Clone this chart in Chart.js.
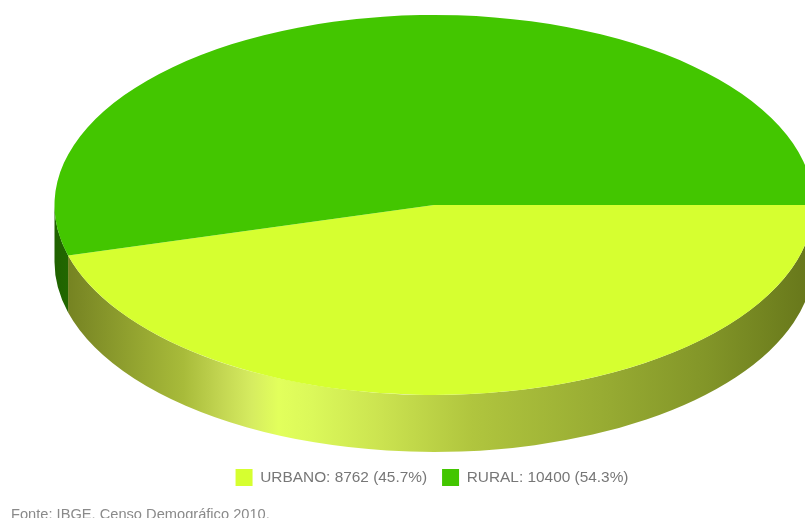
<!DOCTYPE html>
<html lang="pt">
<head>
<meta charset="utf-8">
<title>População urbana e rural</title>
<script src="https://cdn.jsdelivr.net/npm/chart.js@4"></script>
<style>
  html, body { margin: 0; padding: 0; background: #fff; overflow: hidden; }
  canvas { display: block; }
</style>
</head>
<body>
<canvas id="pie" width="805" height="518"></canvas>
<script>
// Population by household situation
const categories = ['URBANO', 'RURAL'];
const populacao = [8762, 10400];
const percentuais = ['45.7%', '54.3%'];
const coresFatia = ['#d6ff30', '#43c600'];
const fonteTexto = 'Fonte: IBGE, Censo Demográfico 2010.';

// Tilted disc geometry, in canvas pixels
const discCenterX = 434;
const discCenterY = 205;
const discRadiusX = 379.5;
const discRadiusY = 190;
const discDepth = 57;

// Side-wall shading: [position across the disc width, colour]
const paredeUrbana = [
  [0.00, '#6f7d1e'], [0.04, '#7d8b26'], [0.12, '#98a932'], [0.17, '#a8bb3a'],
  [0.22, '#c3d652'], [0.26, '#d6ec60'], [0.295, '#e2ff5c'], [0.34, '#dbf85a'],
  [0.43, '#cbe350'], [0.55, '#b0c53e'], [0.72, '#98ac33'], [0.86, '#829528'],
  [1.00, '#66761a']
];
const paredeRural = [
  [0.00, '#1f6200'], [0.04, '#266e00'], [1.00, '#266e00']
];

function paredeGradiente(ctx, stops) {
  const g = ctx.createLinearGradient(discCenterX - discRadiusX, 0, discCenterX + discRadiusX, 0);
  stops.forEach(([pos, cor]) => g.addColorStop(pos, cor));
  return g;
}

// Draws the disc's visible rim under each slice, then flattens the slices into an ellipse
const discoInclinado = {
  id: 'discoInclinado',
  afterLayout(chart) {
    // Legend row and source note sit at fixed spots under the disc
    chart.legend.left += 24;
    chart.legend.right += 24;
    chart.legend.top = 454;
    chart.titleBlock.top = 506;
  },
  beforeDatasetsDraw(chart) {
    const ctx = chart.ctx;
    const arcs = chart.getDatasetMeta(0).data;
    const paredes = [paredeUrbana, paredeRural];
    arcs.forEach((arc, i) => {
      const a0 = Math.max(arc.startAngle, 0);
      const a1 = Math.min(arc.endAngle, Math.PI);
      if (a1 <= a0) return;
      ctx.save();
      ctx.beginPath();
      ctx.ellipse(discCenterX, discCenterY, discRadiusX, discRadiusY, 0, a0, a1);
      ctx.ellipse(discCenterX, discCenterY + discDepth, discRadiusX, discRadiusY, 0, a1, a0, true);
      ctx.closePath();
      ctx.fillStyle = paredeGradiente(ctx, paredes[i]);
      ctx.fill();
      ctx.restore();
    });
    const first = arcs[0];
    ctx.save();
    ctx.translate(discCenterX, discCenterY);
    ctx.scale(1, discRadiusY / discRadiusX);
    ctx.translate(-first.x, -first.y);
  },
  afterDatasetsDraw(chart) {
    chart.ctx.restore();
  }
};

new Chart(document.getElementById('pie'), {
  type: 'pie',
  data: {
    labels: categories,
    datasets: [{
      data: populacao,
      backgroundColor: coresFatia,
      borderWidth: 0,
      clip: false
    }]
  },
  options: {
    responsive: false,
    animation: false,
    events: [],
    rotation: 90,
    radius: discRadiusX,
    layout: { padding: { left: 11 } },
    plugins: {
      tooltip: { enabled: false },
      title: {
        display: true,
        text: fonteTexto,
        position: 'bottom',
        align: 'start',
        color: '#8a8a8a',
        font: { family: '"Liberation Sans", Arial, sans-serif', size: 14.65, weight: 'normal' },
        padding: 0
      },
      legend: {
        position: 'bottom',
        labels: {
          color: '#777777',
          font: { family: '"Liberation Sans", Arial, sans-serif', size: 15.4 },
          boxWidth: 17,
          boxHeight: 17,
          padding: 15,
          generateLabels(chart) {
            return categories.map((nome, i) => ({
              text: `${nome}: ${populacao[i]} (${percentuais[i]})`,
              fillStyle: coresFatia[i],
              strokeStyle: coresFatia[i],
              fontColor: '#777777',
              lineWidth: 0,
              index: i
            }));
          }
        }
      }
    }
  },
  plugins: [discoInclinado]
});
</script>
</body>
</html>
